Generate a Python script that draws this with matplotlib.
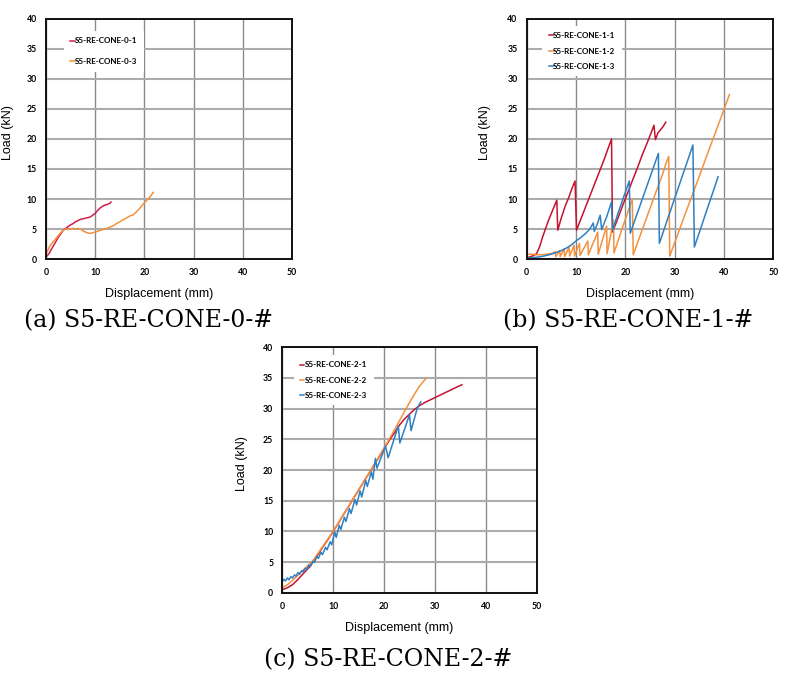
import matplotlib

matplotlib.use("Agg")

import matplotlib.pyplot as plt


# ---- (a) S5-RE-CONE-0-#
a_red_x = [0, 0.3, 0.7, 1.0, 1.5, 2.0, 2.5, 3.0, 3.5, 4.0, 4.5, 5.0, 5.5, 6.0, 6.5,
           7.0, 7.5, 8.0, 8.5, 9.0, 9.5, 10.0, 10.5, 11.0, 11.5, 12.0, 12.5, 13.0, 13.2]
a_red_y = [0.3, 0.6, 1.0, 1.5, 2.2, 2.9, 3.6, 4.2, 4.8, 5.1, 5.4, 5.7, 5.9, 6.2, 6.4,
           6.6, 6.7, 6.8, 6.9, 7.0, 7.3, 7.6, 8.1, 8.5, 8.8, 9.0, 9.1, 9.3, 9.5]

a_orange_x = [0, 0.4, 0.8, 1.3, 1.8, 2.2, 2.7, 3.1, 3.5, 4.0, 4.5, 5.0, 5.5, 6.0, 6.5,
              7.0, 7.5, 8.0, 8.6, 9.2, 10.0, 10.8, 11.5, 12.3, 13.0, 13.8, 14.5, 15.0,
              15.8, 16.5, 17.1, 17.6, 18.2, 19.1, 19.8, 20.5, 21.2, 21.8]
a_orange_y = [0.8, 1.5, 2.2, 2.7, 3.2, 3.6, 4.1, 4.5, 4.8, 5.0, 4.9, 5.0, 5.1, 5.0, 5.1,
              5.0, 4.7, 4.5, 4.3, 4.3, 4.5, 4.7, 4.9, 5.1, 5.3, 5.6, 6.0, 6.2,
              6.6, 6.9, 7.2, 7.3, 7.7, 8.5, 9.2, 9.8, 10.4, 11.1]

# ---- (b) S5-RE-CONE-1-#
b_red_x = [0, 0.8, 1.5, 2.0, 2.6, 3.2, 3.8, 4.4, 5.0, 5.6, 6.1, 6.3, 7.0, 7.8, 8.5,
           9.2, 9.8, 10.1, 11.0, 12.0, 13.0, 14.0, 15.0, 15.8, 16.4, 17.2, 17.4, 18.5,
           19.5, 20.5, 21.5, 22.5, 23.5, 24.5, 25.3, 25.8, 26.1, 26.6, 27.0, 27.6, 28.2]
b_red_y = [0.2, 0.4, 0.6, 0.9, 2.0, 3.6, 5.0, 6.4, 7.6, 8.8, 9.8, 4.8, 6.8, 8.8, 10.2,
           11.8, 13.0, 4.8, 6.7, 8.8, 10.9, 13.0, 15.1, 16.8, 18.2, 20.0, 4.5, 6.8,
           9.0, 11.1, 13.2, 15.3, 17.5, 19.5, 21.2, 22.3, 19.9, 21.0, 21.4, 22.0, 22.8]

b_orange_x = [0, 1.0, 2.0, 3.0, 4.0, 5.0, 5.8, 5.9, 6.7, 6.8, 7.6, 7.7, 8.6, 8.7, 9.6,
              9.7, 10.7, 10.8, 12.4, 12.5, 14.4, 14.5, 16.2, 16.3, 17.6, 17.7, 19.0,
              20.2, 21.4, 21.6, 23.0, 24.5, 26.0, 27.5, 28.4, 28.8, 29.0, 30.5, 32.0,
              33.5, 35.0, 36.5, 38.0, 39.5, 41.1]
b_orange_y = [0.8, 0.8, 0.7, 0.7, 0.8, 0.9, 1.2, 0.4, 1.4, 0.4, 1.7, 0.4, 2.0, 0.5, 2.3,
              0.5, 2.6, 0.6, 3.0, 0.7, 4.5, 0.8, 5.5, 0.9, 6.5, 1.0, 4.2,
              7.1, 10.0, 0.7, 3.9, 7.3, 10.7, 14.0, 16.3, 17.1, 0.5, 3.8, 7.2,
              10.5, 13.8, 17.2, 20.5, 23.8, 27.4]

b_blue_x = [0, 1, 2, 3, 4, 5, 6, 7, 8, 9, 10, 11, 12, 12.8, 13.5, 13.7, 14.3, 14.9, 15.2,
            16.2, 17.2, 17.4, 18.5, 19.6, 20.8, 21.0, 22.5, 24.0, 25.5, 26.7, 26.9, 28.5,
            30.0, 31.5, 33.0, 33.7, 34.0, 35.2, 36.5, 37.7, 38.8]
b_blue_y = [0.2, 0.2, 0.3, 0.4, 0.6, 0.8, 1.1, 1.4, 1.8, 2.3, 3.0, 3.6, 4.3, 5.0, 6.0, 4.6,
            5.8, 7.3, 4.9, 7.0, 9.5, 4.8, 7.6, 10.2, 13.0, 4.3, 7.8, 11.3, 14.8, 17.6,
            2.6, 6.5, 10.1, 13.7, 17.3, 19.0, 2.0, 4.9, 8.1, 11.0, 13.7]

# ---- (c) S5-RE-CONE-2-#
c_red_x = [0, 1, 2, 3, 4, 5, 5.5, 6, 7, 8, 9, 10, 11, 12, 13, 14, 15, 16, 17, 18, 19, 20,
           21, 22, 23, 24, 25, 26, 27, 28, 29, 30, 31, 32, 33, 34, 35.3]
c_red_y = [0.5, 0.8, 1.3, 2.1, 3.0, 3.9, 4.3, 5.0, 6.2, 7.5, 8.7, 10.0, 11.3, 12.7, 14.0,
           15.4, 16.7, 18.1, 19.4, 20.8, 22.1, 23.5, 24.8, 26.0, 27.3, 28.3, 29.1, 29.9,
           30.5, 31.0, 31.4, 31.8, 32.2, 32.6, 33.0, 33.4, 33.9]

c_orange_x = [0, 1, 2, 3, 4, 5, 6, 8, 10, 12, 14, 16, 18, 20, 21, 22, 23, 24, 25, 26, 27,
              28.3]
c_orange_y = [0.8, 1.3, 2.0, 2.8, 3.6, 4.4, 5.2, 7.6, 10.0, 12.7, 15.4, 18.1, 20.8, 23.6,
              25.0, 26.5, 28.0, 29.5, 31.0, 32.4, 33.7, 35.0]

c_blue_x = [0, 0.3, 0.6, 1.0, 1.3, 1.7, 2.0, 2.4, 2.7, 3.1, 3.4, 3.8, 4.1, 4.5, 4.8, 5.2,
            5.5, 6.0, 6.3, 6.8, 7.1, 7.6, 7.9, 8.5, 8.8, 9.4, 9.7, 10.3, 10.6, 11.2, 11.5,
            12.2, 12.5, 13.2, 13.5, 14.3, 14.6, 15.3, 15.6, 16.4, 16.7, 17.5, 17.8, 18.3,
            18.6, 20.3, 20.8, 22.8, 23.1, 25.0, 25.3, 26.5, 27.2]
c_blue_y = [1.8, 2.2, 1.9, 2.4, 2.1, 2.6, 2.4, 2.9, 2.7, 3.3, 3.0, 3.6, 3.4, 4.0, 3.8, 4.5,
            4.3, 5.1, 4.9, 5.9, 5.6, 6.6, 6.2, 7.4, 7.0, 8.3, 7.8, 9.9, 9.0, 11.0, 10.3,
            12.3, 11.6, 13.7, 12.9, 15.2, 14.3, 16.6, 15.6, 18.3, 17.3, 19.7, 18.5, 21.9,
            20.3, 23.9, 22.0, 27.2, 24.4, 29.0, 26.4, 30.0, 31.1]

RED = "#C4122F"
ORANGE = "#F3913D"
BLUE = "#2F80C2"

PANELS = [
    {
        "rect": [46 / 785, 1 - 259 / 681, 246 / 785, 240 / 681],
        "series": [
            ("S5-RE-CONE-0-1", a_red_x, a_red_y, "#CF1F48"),
            ("S5-RE-CONE-0-3", a_orange_x, a_orange_y, ORANGE),
        ],
        "legend": (0.057, 0.967, 1.7),
        "ylabel_x": -0.153,
        "caption": ("(a) S5-RE-CONE-0-#", 149, 321),
    },
    {
        "rect": [526.7 / 785, 1 - 259 / 681, 246.6 / 785, 240 / 681],
        "series": [
            ("S5-RE-CONE-1-1", b_red_x, b_red_y, RED),
            ("S5-RE-CONE-1-2", b_orange_x, b_orange_y, ORANGE),
            ("S5-RE-CONE-1-3", b_blue_x, b_blue_y, BLUE),
        ],
        "legend": (0.046, 0.989, 1.05),
        "ylabel_x": -0.17,
        "caption": ("(b) S5-RE-CONE-1-#", 628, 321),
    },
    {
        "rect": [282.3 / 785, 1 - 592.7 / 681, 254.4 / 785, 245.4 / 681],
        "series": [
            ("S5-RE-CONE-2-1", c_red_x, c_red_y, RED),
            ("S5-RE-CONE-2-2", c_orange_x, c_orange_y, ORANGE),
            ("S5-RE-CONE-2-3", c_blue_x, c_blue_y, BLUE),
        ],
        "legend": (0.030, 0.985, 1.0),
        "ylabel_x": -0.158,
        "caption": ("(c) S5-RE-CONE-2-#", 388, 660),
    },
]


def draw_panel(fig, spec):
    ax = fig.add_axes(spec["rect"])
    for label, xs, ys, color in spec["series"]:
        ax.plot(xs, ys, color=color, linewidth=1.1, label=label)

    ax.set_xlim(0, 50)
    ax.set_ylim(0, 40)
    ax.set_xticks(range(0, 51, 10))
    ax.set_yticks(range(0, 41, 5))
    ax.tick_params(length=0, labelsize=6.3, pad=6.5)
    for lab in ax.get_xticklabels() + ax.get_yticklabels():
        lab.set_fontfamily("Lato")
        lab.set_fontweight("bold")

    ax.grid(axis="x", color="#8a8a8a", linewidth=1.0)
    ax.grid(axis="y", color="#ababab", linewidth=1.5)
    ax.set_axisbelow(True)
    for sp in ax.spines.values():
        sp.set_linewidth(1.4)
        sp.set_color("#111111")

    ax.set_xlabel("Displacement (mm)", fontsize=9, family="Liberation Sans")
    ax.set_ylabel("Load (kN)", fontsize=9, family="Liberation Sans")
    ax.xaxis.set_label_coords(0.46, -0.145)
    ax.xaxis.label.set_va("center")
    ax.yaxis.set_label_coords(spec["ylabel_x"], 0.525)
    ax.yaxis.label.set_va("center")

    lx, ly, spacing = spec["legend"]
    leg = ax.legend(
        loc="upper left",
        bbox_to_anchor=(lx, ly),
        prop={"family": "Lato", "weight": "bold", "size": 5.8},
        handlelength=0.5,
        handletextpad=0.1,
        labelspacing=spacing,
        borderpad=0.8,
        frameon=True,
        fancybox=False,
    )
    leg.get_frame().set_facecolor("white")
    leg.get_frame().set_edgecolor("none")
    leg.get_frame().set_alpha(1)

    text, cx, cy = spec["caption"]
    fig.text(cx / 785, 1 - cy / 681, text, ha="center", va="center",
             family="DejaVu Serif", fontsize=17)


def main():
    fig = plt.figure(figsize=(7.85, 6.81), dpi=100)
    for spec in PANELS:
        draw_panel(fig, spec)
    fig.savefig("out.png", dpi=100, facecolor="white")
    plt.close(fig)


if __name__ == "__main__":
    main()
